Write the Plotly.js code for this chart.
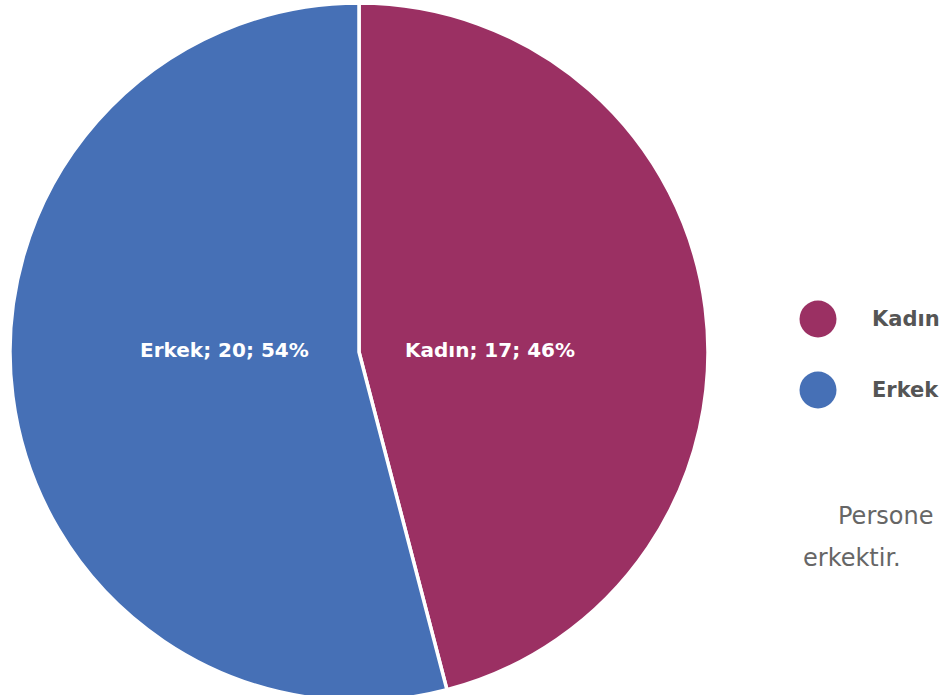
<!DOCTYPE html>
<html>
<head>
<meta charset="utf-8">
<script src="https://cdn.plot.ly/plotly-3.0.1.min.js"></script>
<style>
html,body{margin:0;padding:0;overflow:hidden;background:#fff;width:939px;height:695px;}
#chart{width:939px;height:710px;}
</style>
</head>
<body>
<div id="chart"></div>
<script>
const categories = ["Kadın", "Erkek"];
const values = [17, 20];
const colors = ["#9B3063", "#4670B6"];
const noteLine1 = "Persone";
const noteLine2 = "erkektir.";

const total = values.reduce((a, b) => a + b, 0);
const sliceText = categories.map((c, i) => c + "; " + values[i] + "; " + Math.round(values[i] / total * 100) + "%");

const W = 939, H = 710;
const px = x => x / W;
const py = y => (H - y) / H;

const pie = {
  type: "pie",
  labels: categories,
  values: values,
  textinfo: "none",
  hoverinfo: "label+value+percent",
  sort: false,
  direction: "clockwise",
  rotation: 0,
  marker: { colors: colors, line: { color: "#ffffff", width: 3.5 } },
  domain: { x: [px(10), px(708)], y: [py(701), py(3)] },
  showlegend: false
};

const legendTrace = {
  type: "scatter",
  mode: "markers",
  x: categories.map(() => 0),
  y: categories,
  marker: { size: 37, color: colors },
  hoverinfo: "skip",
  showlegend: false,
  cliponaxis: false
};

// slice labels: Kadın on the right half, Erkek on the left half
const labelX = [490, 224];
const annotations = sliceText.map((t, i) => ({
  text: "<b>" + t + "</b>", xref: "paper", yref: "paper", x: px(labelX[i]), y: py(350),
  xanchor: "center", yanchor: "middle", showarrow: false,
  font: { family: "DejaVu Sans, sans-serif", size: 20, color: "#ffffff" }
}));
categories.forEach(c => annotations.push({
  text: "<b>" + c + "</b>", xref: "paper", yref: "y", x: px(870), y: c,
  xanchor: "left", yanchor: "middle", showarrow: false,
  font: { family: "DejaVu Sans, sans-serif", size: 21, color: "#555555" }
}));
annotations.push(
  { text: noteLine1, xref: "paper", yref: "paper", x: px(836), y: py(516), xanchor: "left", yanchor: "middle", showarrow: false,
    font: { family: "DejaVu Sans, sans-serif", size: 24, color: "#666666", weight: 400 } },
  { text: noteLine2, xref: "paper", yref: "paper", x: px(801), y: py(558), xanchor: "left", yanchor: "middle", showarrow: false,
    font: { family: "DejaVu Sans, sans-serif", size: 24, color: "#666666", weight: 400 } }
);

const layout = {
  width: W,
  height: H,
  margin: { l: 0, r: 0, t: 0, b: 0 },
  paper_bgcolor: "#ffffff",
  plot_bgcolor: "rgba(0,0,0,0)",
  showlegend: false,
  xaxis: { domain: [px(800), px(836)], range: [-0.5, 0.5], visible: false, fixedrange: true },
  yaxis: { domain: [py(425.5), py(283.5)], type: "category", range: [1.5, -0.5], visible: false, fixedrange: true },
  annotations: annotations
};

Plotly.newPlot("chart", [pie, legendTrace], layout, { displayModeBar: false, staticPlot: true });
</script>
</body>
</html>
